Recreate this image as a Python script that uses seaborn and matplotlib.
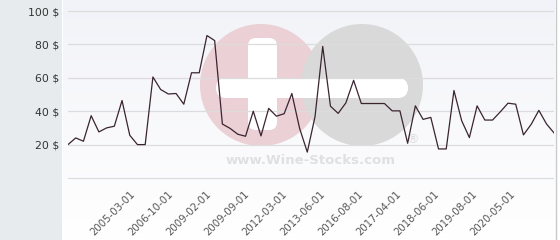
import numpy as np
import pandas as pd
import matplotlib
matplotlib.use("Agg")
import matplotlib.pyplot as plt
from matplotlib.patches import Circle, FancyBboxPatch, Rectangle
import seaborn as sns

# ---- data ----
prices = [20, 24, 22, 37.3, 27.6, 30, 31, 46.4, 25.6, 20, 20, 60.5, 53, 50.3, 50.6, 44.2,
          63, 63, 85.3, 82.3, 32.3, 29.7, 26.2, 25, 40, 25.2, 41.7, 37, 38.5, 50.6, 29.8,
          15.5, 36.7, 78.8, 43, 38.7, 45, 58.5, 44.6, 44.6, 44.6, 44.6, 40.2, 40.2, 20.8,
          43.2, 35.1, 36.3, 17.4, 17.4, 52.4, 34.3, 24.2, 43.2, 34.7, 34.7, 39.6, 44.8,
          44.2, 25.8, 32.1, 40.5, 32.3, 26.8]
tick_labels = ["2005-03-01", "2006-10-01", "2009-02-01", "2009-09-01", "2012-03-01",
               "2013-06-01", "2016-08-01", "2017-04-01", "2018-06-01", "2019-08-01",
               "2020-05-01"]
y_ticks = [0, 20, 40, 60, 80, 100]
y_labels = ["", "20 $", "40 $", "60 $", "80 $", "100 $"]

df = pd.DataFrame({"idx": np.arange(len(prices)), "price": prices})

sns.set_theme(style="white")
plt.rcParams["font.family"] = ["DejaVu Sans"]

W, H = 560, 240
fig = plt.figure(figsize=(W / 100, H / 100), dpi=100)
fig.patch.set_facecolor("white")

# background layer (figure pixel coords)
bg = fig.add_axes([0, 0, 1, 1], zorder=0)
bg.set_xlim(0, W)
bg.set_ylim(H, 0)
bg.axis("off")
grad = np.linspace(0, 1, 100)[:, None]
top_c = np.array([242, 243, 248]) / 255
bot_c = np.array([255, 255, 255]) / 255
img = top_c[None, None, :] * (1 - grad[:, :, None]) + bot_c[None, None, :] * grad[:, :, None]
bg.imshow(img, extent=[63, 555, H, 0], aspect="auto", zorder=0)
bg.add_patch(Rectangle((0, 0), 62, H, facecolor="#e7ebee", edgecolor="none", zorder=1))
bg.plot([555.5, 555.5], [0, H], color="#c9c9c9", lw=1.0, zorder=2)

# watermark
pink = "#ebd0d6"
grey = "#d9d9d9"
bg.add_patch(Circle((261, 85), 61, facecolor=pink, edgecolor="none", zorder=3))
bg.add_patch(Circle((362, 85), 61, facecolor=grey, edgecolor="none", zorder=3))
bg.add_patch(FancyBboxPatch((216, 78), 192, 20, boxstyle="round,pad=0,rounding_size=10",
                            facecolor="white", edgecolor="none", zorder=4))
bg.add_patch(FancyBboxPatch((248, 38), 29, 92, boxstyle="round,pad=0,rounding_size=8",
                            facecolor="white", edgecolor="none", zorder=4))
bg.text(311, 161, "www.Wine-Stocks.com", fontsize=9.5, fontweight="bold", color="#e0e0e0",
        ha="center", va="center", zorder=4)
bg.text(413, 140, "®", fontsize=9, color="#dcdcdc", ha="center", va="center", zorder=4)

# main axes
px_per = (178 - 11) / 100
y0, y1 = -1, 101
bottom_px = 178 + (0 - y0) * px_per
top_px = 11 - (y1 - 100) * px_per
ax = fig.add_axes([68 / W, 1 - bottom_px / H, (554.3 - 68) / W, (bottom_px - top_px) / H], zorder=2)
ax.set_facecolor("none")

sns.lineplot(data=df, x="idx", y="price", ax=ax, color="#3a2430", linewidth=0.9)

ax.set_xlim(0, len(prices) - 1)
ax.set_ylim(y0, y1)
ax.set_yticks(y_ticks)
ax.set_yticklabels(y_labels)
tick_pos = np.linspace(8, 57.3, len(tick_labels))
ax.set_xticks(tick_pos)
ax.set_xticklabels(tick_labels, rotation=45, ha="right", rotation_mode="anchor")
ax.tick_params(axis="y", length=0, pad=6.5, labelsize=7.8, labelcolor="#333333")
ax.tick_params(axis="x", length=0, pad=7, labelsize=7.3, labelcolor="#555555")
ax.grid(axis="y", color="#dcdcdc", linewidth=0.9)
ax.grid(axis="x", visible=False)
ax.set_axisbelow(True)
for s in ax.spines.values():
    s.set_visible(False)
ax.set_xlabel("")
ax.set_ylabel("")

fig.savefig("out.png", dpi=100, facecolor=fig.get_facecolor())
